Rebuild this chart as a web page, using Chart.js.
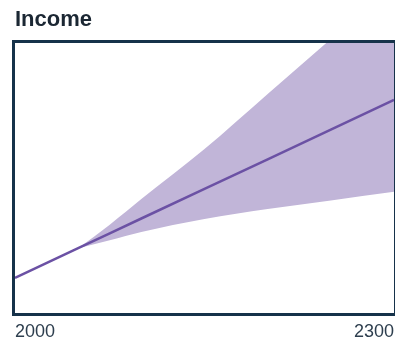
<!DOCTYPE html>
<html>
<head>
<meta charset="utf-8">
<script src="https://cdn.jsdelivr.net/npm/chart.js@4"></script>
<style>
  html, body { margin: 0; padding: 0; background: #fff; }
  #chart { display: block; }
</style>
</head>
<body>
<canvas id="chart" width="395" height="340"></canvas>
<script>
// projection years and values (index units)
const years = [2000, 2050, 2075, 2100, 2150, 2200, 2250, 2300];
const median = [13.0, 24.0, 29.5, 35.0, 46.0, 56.9, 67.9, 78.9];
const bandYears = [2050, 2075, 2100, 2150, 2200, 2250, 2300];
const upper = [24.0, 32.7, 42.2, 60.7, 81.1, 101.5, 122.6];
const lower = [24.0, 26.9, 30.0, 34.8, 38.5, 41.7, 44.9];
const tickYears = [2000, 2300];

const toPoints = (xs, ys) => xs.map((x, i) => ({ x: x, y: ys[i] }));

// dark frame around the plot area
const frame = {
    id: 'frame',
    afterDatasetsDraw(chart) {
        const a = chart.chartArea;
        const ctx = chart.ctx;
        ctx.save();
        ctx.strokeStyle = '#16324a';
        ctx.lineWidth = 3;
        ctx.strokeRect(a.left - 1.5, a.top - 1.5, a.right - a.left + 3, a.bottom - a.top + 3);
        ctx.restore();
    }
};

const ctx = document.getElementById('chart').getContext('2d');
new Chart(ctx, {
    type: 'line',
    data: {
        datasets: [
            {
                label: 'Median',
                data: toPoints(years, median),
                borderColor: '#6b51a4',
                borderWidth: 2.5,
                pointRadius: 0,
                fill: false,
                order: 0
            },
            {
                label: 'Upper',
                data: toPoints(bandYears, upper),
                borderWidth: 0,
                pointRadius: 0,
                cubicInterpolationMode: 'monotone',
                backgroundColor: '#c1b5d8',
                fill: '+1',
                order: 1
            },
            {
                label: 'Lower',
                data: toPoints(bandYears, lower),
                borderWidth: 0,
                pointRadius: 0,
                cubicInterpolationMode: 'monotone',
                fill: false,
                order: 2
            }
        ]
    },
    options: {
        responsive: false,
        animation: false,
        layout: {
            padding: { left: 15, right: 1, top: 0, bottom: 0 }
        },
        scales: {
            x: {
                type: 'linear',
                min: 2000,
                max: 2300,
                grid: { display: false, drawTicks: false },
                border: { display: false },
                afterBuildTicks: (axis) => {
                    axis.ticks = tickYears.map(v => ({ value: v }));
                },
                afterFit: (axis) => {
                    // end labels sit inside the plot, no side padding needed
                    axis.paddingLeft = 0;
                    axis.paddingRight = 0;
                    axis.height = 27;
                },
                ticks: {
                    align: 'inner',
                    maxRotation: 0,
                    padding: 8,
                    color: '#2d3e4e',
                    font: { family: 'Liberation Sans, Arial, sans-serif', size: 18 },
                    callback: (v) => String(v)
                }
            },
            y: {
                display: false,
                min: 0,
                max: 100
            }
        },
        plugins: {
            legend: { display: false },
            tooltip: { enabled: false },
            title: {
                display: true,
                text: 'Income',
                align: 'start',
                color: '#1b2733',
                font: { family: 'Liberation Sans, Arial, sans-serif', size: 22, weight: 'bold' },
                padding: { top: 7, bottom: 9.6 }
            }
        }
    },
    plugins: [frame]
});
</script>
</body>
</html>
